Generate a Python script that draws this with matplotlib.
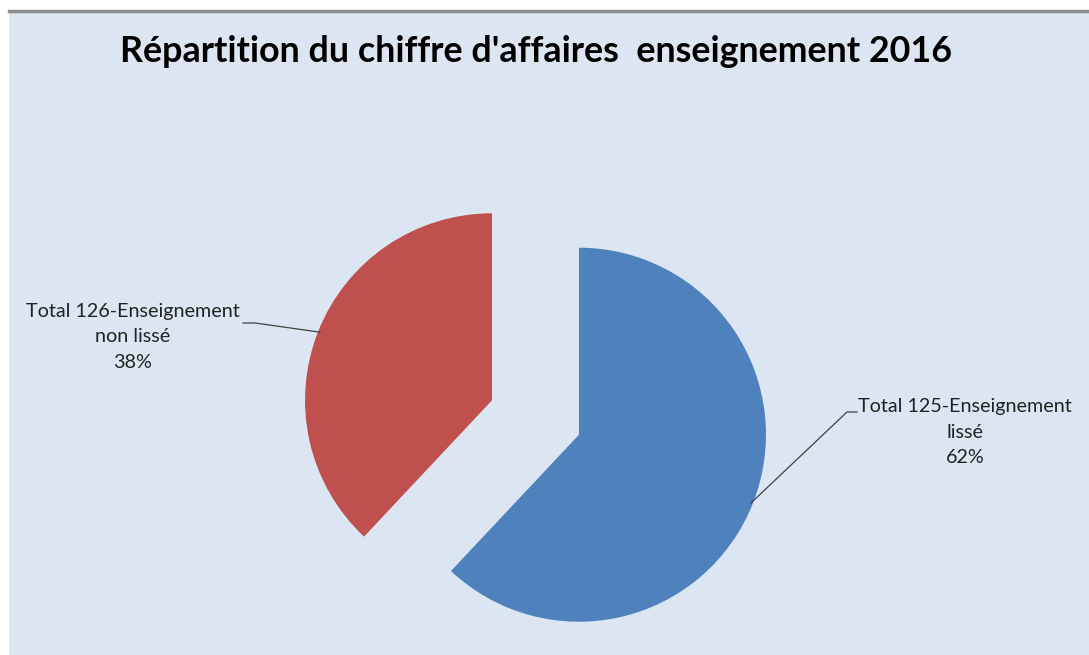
import numpy as np
import matplotlib.pyplot as plt

W, H = 1089, 655
BG = '#DCE6F2'

labels = ['Total 125-Enseignement\nlissé', 'Total 126-Enseignement\nnon lissé']
shares = [62, 38]
colors = ['#4F81BD', '#C0504D']
title = "Répartition du chiffre d'affaires  enseignement 2016"

plt.rcParams['font.family'] = ['Lato', 'DejaVu Sans']

fig = plt.figure(figsize=(W / 100, H / 100), dpi=100)
fig.patch.set_facecolor('white')

# chart area (pixel coordinates, y up)
ax = fig.add_axes([0, 0, 1, 1])
ax.set_xlim(0, W)
ax.set_ylim(0, H)
ax.axis('off')
ax.add_patch(plt.Rectangle((9, 0), W - 9, H - 12, facecolor=BG, edgecolor='none', zorder=0))
ax.plot([9, W], [H - 11, H - 11], color='#8C8C8C', lw=2.5, zorder=1)

R = 187
wedges, _ = ax.pie(shares, colors=colors, startangle=90, counterclock=False,
                   explode=[0.25 * R, 0.25 * R], radius=R, center=(535.5, H - 417.5),
                   wedgeprops=dict(linewidth=0))
ax.set_xlim(0, W)
ax.set_ylim(0, H)
ax.set_aspect('equal')

ax.text(536, H - 51, title, ha='center', va='center', fontsize=25.8, fontweight='bold', color='black')

# data labels with leader lines to the wedge bisector
label_pos = [(965, H - 432, 857, H - 412, 847), (133, H - 337, 243, H - 323, 255)]
for w, lab, s, (tx, ty, lx0, ly, lx1) in zip(wedges, labels, shares, label_pos):
    ang = np.deg2rad((w.theta1 + w.theta2) / 2)
    cx, cy = w.center
    ex, ey = cx + 0.99 * w.r * np.cos(ang), cy + 0.99 * w.r * np.sin(ang)
    ax.text(tx, ty, f'{lab}\n{s}%', ha='center', va='center', fontsize=14.2,
            color='#222222', linespacing=1.62)
    ax.plot([lx0, lx1, ex], [ly, ly, ey], color='#404040', lw=0.9)

fig.savefig('out.png', dpi=100, facecolor=fig.get_facecolor())
